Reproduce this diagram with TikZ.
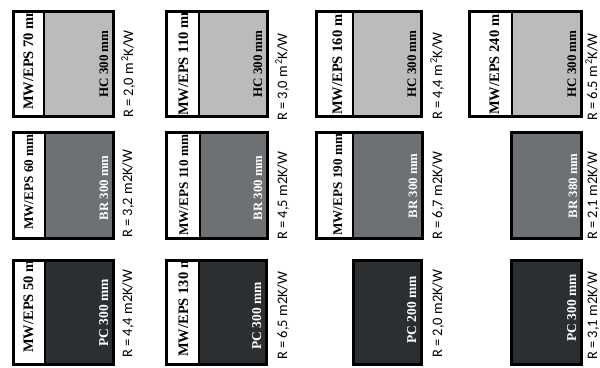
\documentclass[tikz,border=0pt]{standalone}
\usepackage{fontspec}
\setmainfont{Liberation Serif}
\newfontfamily\lblfont{Carlito}
\definecolor{hcgray}{HTML}{B9BBBC}
\definecolor{brgray}{HTML}{6E7174}
\definecolor{pcgray}{HTML}{2B2F31}
\tikzset{
  frame/.style={draw=black,line width=3pt},
  divider/.style={draw=black,line width=1.2pt},
  mwtext/.style={rotate=90,anchor=base west,inner sep=0pt,font=\bfseries\fontsize{14.5}{14.5}\selectfont},
  mwsmall/.style={mwtext,font=\bfseries\fontsize{13.2}{13.2}\selectfont},
  hctext/.style={rotate=90,anchor=base,inner sep=0pt,text=black,font=\bfseries\fontsize{13}{13}\selectfont},
  brtext/.style={rotate=90,anchor=base,inner sep=0pt,text=white,font=\bfseries\fontsize{12.8}{12.8}\selectfont},
  pctext/.style={rotate=90,anchor=base,inner sep=0pt,text=white,font=\bfseries\fontsize{13.5}{13.5}\selectfont},
  rlabel/.style={rotate=90,anchor=base west,inner sep=0pt,font=\lblfont\fontsize{14.5}{14.5}\selectfont},
}
% #1 x0, #2 divider x, #3 x1, #4 y0, #5 y1, #6 colour
\newcommand\insulwall[6]{%
  \fill[white] (#1,#4) rectangle (#2,#5);
  \fill[#6] (#2,#4) rectangle (#3,#5);
  \draw[divider] (#2,#4) -- (#2,#5);
  \draw[frame] ({#1+1.5},{#4+1.5}) rectangle ({#3-1.5},{#5-1.5});
}
% #1 x0, #2 x1, #3 y0, #4 y1, #5 colour
\newcommand\plainwall[5]{%
  \fill[#5] (#1,#3) rectangle (#2,#4);
  \draw[frame] ({#1+1.5},{#3+1.5}) rectangle ({#2-1.5},{#4-1.5});
}
\newcommand\sq{\kern1pt\textsuperscript{2}}
\begin{document}
\begin{tikzpicture}[x=1pt,y=-1pt]
\useasboundingbox (0,0) rectangle (600,367);
% ---------- row 1 : HC 300 mm ----------
\insulwall{12}{44}{115}{10}{118}{hcgray}
\insulwall{165}{199}{269}{10}{118}{hcgray}
\insulwall{315}{353}{423}{10}{118}{hcgray}
\insulwall{468}{512}{583}{10}{118}{hcgray}
\begin{scope}\clip (15,13) rectangle (44,115);
  \node[mwtext] (mwA1) at (33,110) {MW/EPS 70 mm};\end{scope}
\begin{scope}\clip (168,13) rectangle (199,115);
  \node[mwtext] (mwA2) at (188,116) {MW/EPS 110 mm};\end{scope}
\begin{scope}\clip (318,13) rectangle (353,115);
  \node[mwtext] (mwA3) at (342,115) {MW/EPS 160 mm};\end{scope}
\begin{scope}\clip (471,13) rectangle (512,115);
  \node[mwtext] (mwA4) at (499,115) {MW/EPS 240 mm};\end{scope}
\node[hctext] (hcA1) at (108,64) {HC 300 mm};
\node[hctext] (hcA2) at (262,64) {HC 300 mm};
\node[hctext] (hcA3) at (416,64) {HC 300 mm};
\node[hctext] (hcA4) at (576,64) {HC 300 mm};
\node[rlabel] (rA1) at (133,118) {R = 2,0 m\sq K/W};
\node[rlabel] (rA2) at (287,121) {R = 3,0 m\sq K/W};
\node[rlabel] (rA3) at (442,120) {R = 4,4 m\sq K/W};
\node[rlabel] (rA4) at (597,121) {R = 6.5 m\sq K/W};
% ---------- row 2 : BR ----------
\insulwall{12}{45}{115}{131}{240}{brgray}
\insulwall{165}{200}{269}{131}{240}{brgray}
\insulwall{315}{353}{424}{131}{240}{brgray}
\plainwall{510}{583}{131}{240}{brgray}
\begin{scope}\clip (15,134) rectangle (45,237);
  \node[mwsmall] (mwB1) at (33,230) {MW/EPS 60 mm};\end{scope}
\begin{scope}\clip (168,134) rectangle (200,237);
  \node[mwsmall] (mwB2) at (188,236) {MW/EPS 110 mm};\end{scope}
\begin{scope}\clip (318,134) rectangle (353,237);
  \node[mwsmall] (mwB3) at (342,236) {MW/EPS 190 mm};\end{scope}
\node[brtext] (brB1) at (108,188) {BR 300 mm};
\node[brtext] (brB2) at (262,188) {BR 300 mm};
\node[brtext] (brB3) at (417,186) {BR 300 mm};
\node[brtext] (brB4) at (577,186) {BR 380 mm};
\node[rlabel] (rB1) at (132,238) {R = 3,2 m2K/W};
\node[rlabel] (rB2) at (287,240) {R = 4,5 m2K/W};
\node[rlabel] (rB3) at (442,240) {R = 6,7 m2K/W};
\node[rlabel] (rB4) at (597,240) {R = 2,1 m2K/W};
% ---------- row 3 : PC ----------
\insulwall{12}{45}{115}{259}{366}{pcgray}
\insulwall{165}{199}{268}{259}{366}{pcgray}
\plainwall{352}{423}{259}{366}{pcgray}
\plainwall{510}{583}{259}{366}{pcgray}
\begin{scope}\clip (15,262) rectangle (45,363);
  \node[mwtext] (mwC1) at (33,353) {MW/EPS 50 mm};\end{scope}
\begin{scope}\clip (168,262) rectangle (199,363);
  \node[mwtext] (mwC2) at (188,357) {MW/EPS 130 mm};\end{scope}
\node[pctext] (pcC1) at (108,313) {PC 300 mm};
\node[pctext] (pcC2) at (261,316) {PC 300 mm};
\node[pctext] (pcC3) at (416,310) {PC 200 mm};
\node[pctext] (pcC4) at (576,308) {PC 300 mm};
\node[rlabel] (rC1) at (132,358) {R = 4,4 m2K/W};
\node[rlabel] (rC2) at (287,360) {R = 6,5 m2K/W};
\node[rlabel] (rC3) at (442,358) {R = 2,0 m2K/W};
\node[rlabel] (rC4) at (597,360) {R = 3,1 m2K/W};
\end{tikzpicture}
\end{document}
